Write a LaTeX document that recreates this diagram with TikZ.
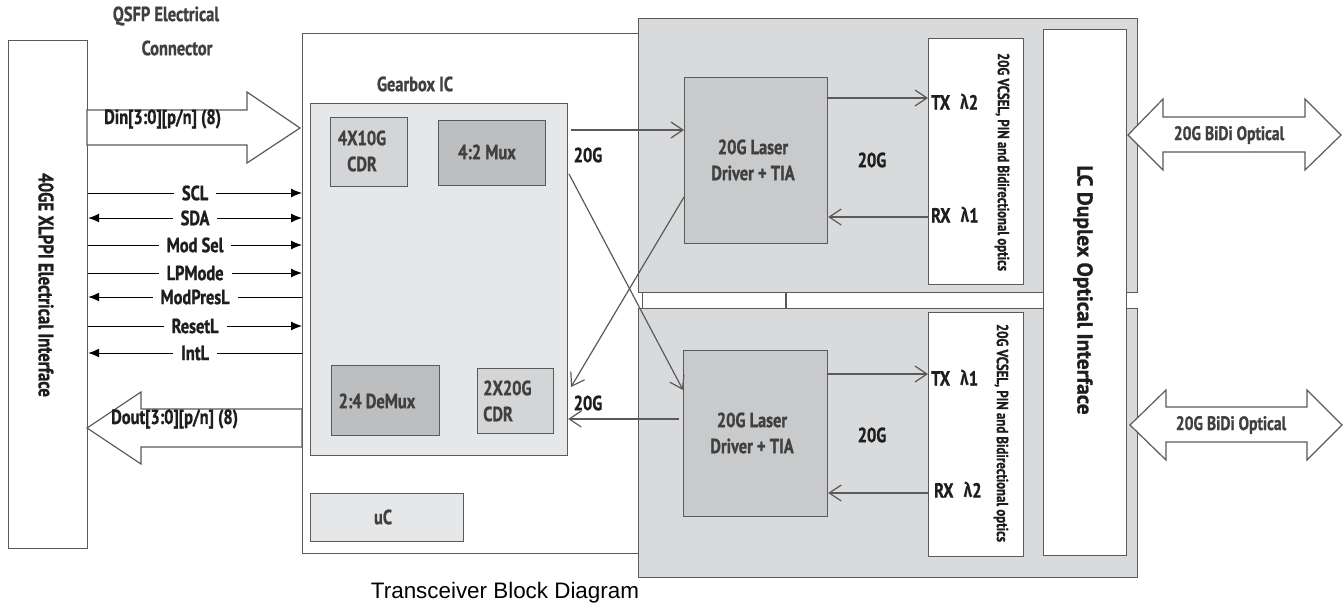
\documentclass[tikz,border=0pt]{standalone}
\usepackage{fontspec}
\setmainfont{PT Sans}[FakeStretch=0.8, BoldFeatures={FakeBold=1}]
\newfontfamily\wfont{PT Sans}[BoldFeatures={FakeBold=1}]
\newfontfamily\grk{Fira Sans}[FakeStretch=0.8]
\newfontfamily\arialf{Liberation Sans}
\usetikzlibrary{arrows.meta}
\definecolor{lgray}{HTML}{5A5A5A}
\definecolor{txt}{HTML}{404040}
\definecolor{dtxt}{HTML}{1E1E1E}
\definecolor{panelfill}{HTML}{D9DADC}
\definecolor{gearfill}{HTML}{E6E7E8}
\definecolor{drvfill}{HTML}{C9CACC}
\definecolor{cdrfill}{HTML}{D4D5D7}
\definecolor{muxfill}{HTML}{BDBEC0}
\begin{document}
\begin{tikzpicture}[x=1pt,y=-1pt,
  lbl/.style={font=\fontsize{20.5}{26}\selectfont\bfseries, text=txt, inner sep=1pt},
  dlbl/.style={font=\fontsize{20.5}{26}\selectfont\bfseries, text=dtxt, inner sep=1pt},
  blk/.style={draw=lgray, line width=1.2pt, anchor=north west, inner sep=0pt},
  barrow/.style={draw=lgray, line width=1.2pt, fill=white, line join=miter},
  conn/.style={draw=lgray, line width=1.2pt, -{Straight Barb[length=12pt,width=16pt,line width=1.2pt]}},
  sig/.style={draw=black, line width=1pt},
  sigr/.style={sig, -{Latex[length=11pt,width=9pt]}},
  sigl/.style={sig, {Latex[length=11pt,width=9pt]}-},
  sigb/.style={sig, {Latex[length=11pt,width=9pt]}-{Latex[length=11pt,width=9pt]}},
  siglbl/.style={font=\fontsize{20.5}{22}\selectfont\bfseries, text=dtxt, fill=white, inner xsep=8pt, inner ysep=1pt},
  vtxt/.style={rotate=-90, font=\fontsize{16}{17}\selectfont\bfseries, text=dtxt, inner sep=0pt}
]
\useasboundingbox (0,0) rectangle (1343,608);

% left electrical interface
\node[blk, minimum width=79pt, minimum height=508pt] (lefti) at (8,40) {};
\node[rotate=-90, font=\fontsize{21}{22}\selectfont\bfseries, text=dtxt] (leftlbl) at (46,285) {40GE XLPPI Electrical Interface};

\node[lbl] (qsfp1) at (166,16) {QSFP Electrical};
\node[lbl] (qsfp2) at (177,48) {Connector};

% middle module box
\node[blk, fill=white, minimum width=340pt, minimum height=520pt] (mid) at (302,33) {};

% right panels
\node[blk, fill=panelfill, minimum width=499pt, minimum height=274pt] (panU) at (638,18) {};
\node[blk, fill=panelfill, minimum width=499pt, minimum height=269pt] (panL) at (638,308) {};
\draw[lgray, line width=1.2pt] (panU.south -| 786,0) -- (panL.north -| 786,0);

% gearbox
\node[lbl] (gearlbl) at (415,84) {Gearbox IC};
\node[blk, fill=gearfill, minimum width=257pt, minimum height=352pt] (gear) at (310,103) {};
\node[blk, fill=cdrfill, minimum width=77pt, minimum height=69pt] (cdr1) at (330,117) {};
\node[lbl, align=center] (cdr1t) at (362,151) {4X10G\\CDR};
\node[blk, fill=muxfill, minimum width=107pt, minimum height=65pt] (mux) at (438,120) {};
\node[lbl] (muxt) at (487,152) {4:2 Mux};
\node[blk, fill=muxfill, minimum width=108pt, minimum height=70pt] (demux) at (331,365) {};
\node[lbl] (demuxt) at (377,401) {2:4 DeMux};
\node[blk, fill=cdrfill, minimum width=76pt, minimum height=65pt] (cdr2) at (477,368) {};
\node[lbl, align=left, anchor=west] (cdr2t) at (482,401) {2X20G\\CDR};
\node[blk, fill=gearfill, minimum width=153pt, minimum height=48pt] (uc) at (310,493) {};
\node[lbl] (uct) at (383,517) {uC};

% drivers
\node[blk, fill=drvfill, minimum width=143pt, minimum height=166pt] (drvU) at (684,77) {};
\node[lbl, align=center] (drvUt) at (753,160) {20G Laser\\Driver + TIA};
\node[blk, fill=drvfill, minimum width=144pt, minimum height=166pt] (drvL) at (683,350) {};
\node[lbl, align=center] (drvLt) at (752,433) {20G Laser\\Driver + TIA};

% optics boxes
\node[blk, fill=white, minimum width=95pt, minimum height=246pt] (optU) at (928,38) {};
\node[vtxt] (optUt) at (1002,162) {20G VCSEL, PIN and Bidirectional optics};
\node[blk, fill=white, minimum width=95pt, minimum height=244pt] (optL) at (928,312) {};
\node[vtxt] (optLt) at (1001,433) {20G VCSEL, PIN and Bidirectional optics};

\node[dlbl, anchor=west] (txU) at (930,102) {TX\hspace{10pt}{\grk λ}2};
\node[dlbl, anchor=west] (rxU) at (930,215) {RX\hspace{10pt}{\grk λ}1};
\node[dlbl, anchor=west] (txL) at (930,378) {TX\hspace{10pt}{\grk λ}1};
\node[dlbl, anchor=west] (rxL) at (933,490) {RX\hspace{10pt}{\grk λ}2};

% LC duplex
\node[blk, fill=white, minimum width=83pt, minimum height=526pt] (lc) at (1043,29) {};
\node[rotate=-90, font=\wfont\fontsize{21.5}{24}\selectfont\bfseries, text=dtxt] (lct) at (1083,290) {LC Duplex Optical Interface};

% 20G labels
\node[dlbl] (g20a) at (588,155) {20G};
\node[dlbl] (g20b) at (588,403) {20G};
\node[dlbl] (g20c) at (872,160) {20G};
\node[dlbl] (g20d) at (872,435) {20G};

% connectors
\coordinate (gA) at (571,130);
\coordinate (gB) at (569,174);
\coordinate (gC) at (571,387);
\draw[conn] (gA) -- (drvU.west |- gA);
\draw[conn] (gB) -- (drvL.west |- 0,390);
\draw[conn] (drvU.west |- 0,197) -- (gC);
\draw[conn] ([xshift=-4pt]drvL.west |- 0,419) -- (gear.east |- 0,419);
\draw[conn] (drvU.east |- 0,98) -- (optU.west |- 0,98);
\draw[conn] (optU.west |- 0,217) -- (drvU.east |- 0,217);
\draw[conn] (drvL.east |- 0,374) -- (optL.west |- 0,374);
\draw[conn] (optL.west |- 0,493) -- (drvL.east |- 0,493);

% block arrows
\draw[barrow] (87,110) -- (247,110) -- (247,92) -- (300,128) -- (247,163) -- (247,145) -- (87,145) -- cycle;
\node[dlbl, anchor=west] (din) at (103,119) {Din[3:0][p/n] (8)};
\draw[barrow] (302,409) -- (141,409) -- (141,392) -- (87,428) -- (141,464) -- (141,447) -- (302,447) -- cycle;
\node[dlbl, anchor=west] (dout) at (110,419) {Dout[3:0][p/n] (8)};

\draw[barrow] (1128,135) -- (1163,99) -- (1163,117) -- (1305,117) -- (1305,99) -- (1341,135) -- (1305,170) -- (1305,152) -- (1163,152) -- (1163,170) -- cycle;
\node[lbl, font=\fontsize{19.5}{22}\selectfont\bfseries] (bidiU) at (1229,135) {20G BiDi Optical};
\draw[barrow] (1130,425) -- (1166,390) -- (1166,407) -- (1307,407) -- (1307,390) -- (1342,425) -- (1307,460) -- (1307,442) -- (1166,442) -- (1166,460) -- cycle;
\node[lbl, font=\fontsize{19.5}{22}\selectfont\bfseries] (bidiL) at (1231,425) {20G BiDi Optical};

% signal lines
\draw[sigr] (lefti.east |- 0,193) -- node[siglbl] {SCL} (mid.west |- 0,193);
\draw[sigb] (lefti.east |- 0,218) -- node[siglbl] {SDA} (mid.west |- 0,218);
\draw[sigr] (lefti.east |- 0,245) -- node[siglbl] {Mod Sel} (mid.west |- 0,245);
\draw[sigr] (lefti.east |- 0,273) -- node[siglbl] {LPMode} (mid.west |- 0,273);
\draw[sigl] (lefti.east |- 0,297) -- node[siglbl] {ModPresL} (mid.west |- 0,297);
\draw[sigr] (lefti.east |- 0,326) -- node[siglbl] {ResetL} (mid.west |- 0,326);
\draw[sigl] (lefti.east |- 0,353) -- node[siglbl] {IntL} (mid.west |- 0,353);

% caption
\node[font=\arialf\fontsize{22.4}{24}\selectfont, text=black] (cap) at (505,593) {Transceiver Block Diagram};
\end{tikzpicture}
\end{document}
